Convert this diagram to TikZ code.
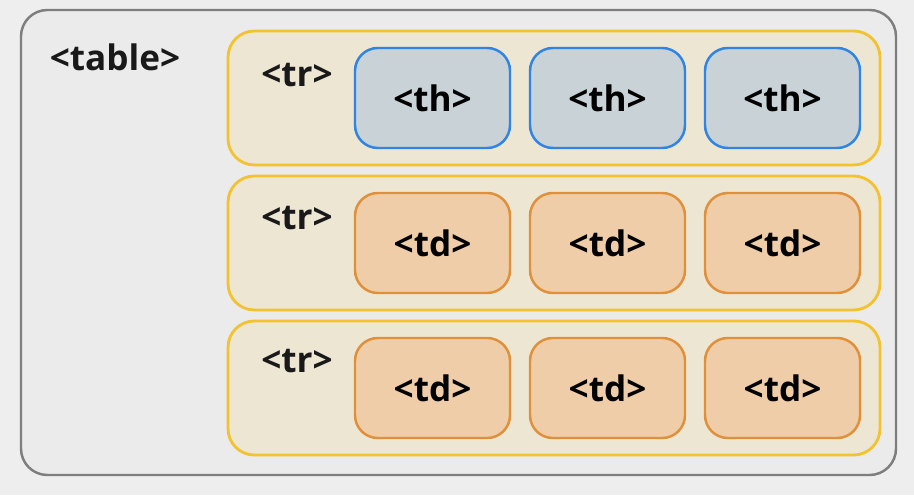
\documentclass[tikz,border=0pt]{standalone}
\usepackage{fontspec}
\setmainfont{Open Sans}
\usepackage{xcolor}
\usepackage{tikz}
\usetikzlibrary{positioning}

\definecolor{bgcol}{HTML}{EEEEEE}
\definecolor{tablefill}{HTML}{EBEBEB}
\definecolor{tableline}{HTML}{7E7E7E}
\definecolor{rowfill}{HTML}{EDE6D3}
\definecolor{rowline}{HTML}{F2C230}
\definecolor{thfill}{HTML}{C8D2D7}
\definecolor{thline}{HTML}{2F84E4}
\definecolor{tdfill}{HTML}{F0CDA9}
\definecolor{tdline}{HTML}{E0903A}

\begin{document}
\begin{tikzpicture}[
  font=\fontsize{20}{23}\selectfont\bfseries,
  tablebox/.style={
    draw=tableline, fill=tablefill, line width=1.4pt, rounded corners=15pt,
    minimum width=17.5cm, minimum height=9.3cm
  },
  rowbox/.style={
    draw=rowline, fill=rowfill, line width=1.6pt, rounded corners=15pt,
    minimum width=13.04cm, minimum height=2.68cm
  },
  cellbox/.style={
    line width=1.4pt, rounded corners=13pt,
    minimum width=3.1cm, minimum height=2cm, align=center
  },
  thbox/.style={cellbox, fill=thfill, draw=thline},
  tdbox/.style={cellbox, fill=tdfill, draw=tdline},
  labl/.style={text=black!90}
]

\fill[bgcol] (0,0) rectangle (18.28,9.9);
\useasboundingbox (0,0) rectangle (18.28,9.9);

\node[tablebox] (table) at (9.17, 5.05) {};
\node[labl] (tablelbl) at (2.3, 8.76) {<table>};

\node[rowbox] (row1) at (11.08, 7.94) {};
\node[rowbox] (row2) at (11.08, 5.04) {};
\node[rowbox] (row3) at (11.08, 2.14) {};

\node[labl] (tr1) at (5.94, 8.40) {<tr>};
\node[labl] (tr2) at (5.94, 5.54) {<tr>};
\node[labl] (tr3) at (5.94, 2.68) {<tr>};

\node[thbox] (th1) at (8.65, 7.94) {<th>};
\node[thbox] (th2) at (12.15,7.94) {<th>};
\node[thbox] (th3) at (15.65,7.94) {<th>};

\node[tdbox] (td21) at (8.65, 5.04) {<td>};
\node[tdbox] (td22) at (12.15,5.04) {<td>};
\node[tdbox] (td23) at (15.65,5.04) {<td>};

\node[tdbox] (td31) at (8.65, 2.14) {<td>};
\node[tdbox] (td32) at (12.15,2.14) {<td>};
\node[tdbox] (td33) at (15.65,2.14) {<td>};

\end{tikzpicture}
\end{document}
